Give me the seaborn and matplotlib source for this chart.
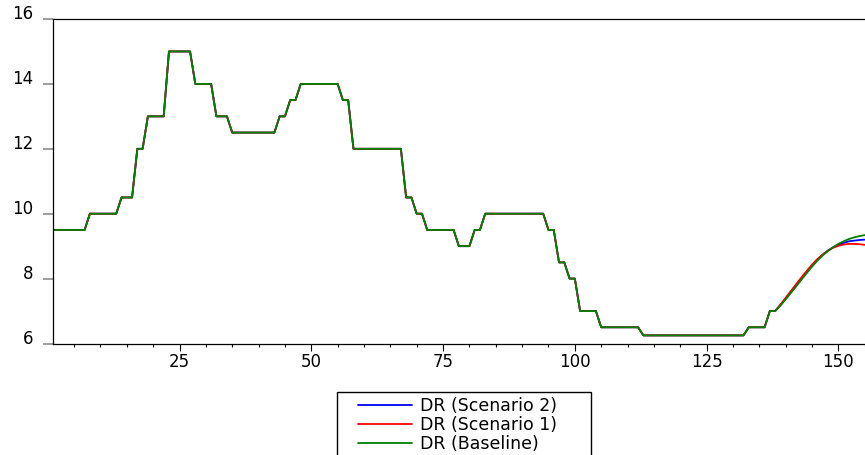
import matplotlib
matplotlib.use("Agg")
import matplotlib.pyplot as plt
from matplotlib.lines import Line2D
from matplotlib.patches import Rectangle
from matplotlib.ticker import MultipleLocator, NullLocator
import numpy as np
import pandas as pd
import seaborn as sns

# ---------------- data ----------------
# common history, periods 1..138
t_history = list(range(1, 139))
history = [
    9.5, 9.5, 9.5, 9.5, 9.5, 9.5, 9.5,            # 1-7
    10, 10, 10, 10, 10, 10,                       # 8-13
    10.5, 10.5, 10.5,                             # 14-16
    12, 12,                                       # 17-18
    13, 13, 13, 13,                               # 19-22
    15, 15, 15, 15, 15,                           # 23-27
    14, 14, 14, 14,                               # 28-31
    13, 13, 13,                                   # 32-34
    12.5, 12.5, 12.5, 12.5, 12.5, 12.5, 12.5, 12.5, 12.5,  # 35-43
    13, 13,                                       # 44-45
    13.5, 13.5,                                   # 46-47
    14, 14, 14, 14, 14, 14, 14, 14,               # 48-55
    13.5, 13.5,                                   # 56-57
    12, 12, 12, 12, 12, 12, 12, 12, 12, 12,       # 58-67
    10.5, 10.5,                                   # 68-69
    10, 10,                                       # 70-71
    9.5, 9.5, 9.5, 9.5, 9.5, 9.5,                 # 72-77
    9, 9, 9,                                      # 78-80
    9.5, 9.5,                                     # 81-82
    10, 10, 10, 10, 10, 10, 10, 10, 10, 10, 10, 10,  # 83-94
    9.5, 9.5,                                     # 95-96
    8.5, 8.5,                                     # 97-98
    8, 8,                                         # 99-100
    7, 7, 7, 7,                                   # 101-104
    6.5, 6.5, 6.5, 6.5, 6.5, 6.5, 6.5, 6.5,       # 105-112
    6.25, 6.25, 6.25, 6.25, 6.25, 6.25, 6.25, 6.25, 6.25, 6.25,
    6.25, 6.25, 6.25, 6.25, 6.25, 6.25, 6.25, 6.25, 6.25, 6.25,  # 113-132
    6.5, 6.5, 6.5, 6.5,                           # 133-136
    7, 7,                                         # 137-138
]

# forecast periods 139..155
t_forecast = list(range(139, 156))
baseline_fc = [7.17, 7.36, 7.56, 7.76, 7.97, 8.17, 8.37, 8.55, 8.71,
               8.85, 8.97, 9.07, 9.15, 9.22, 9.27, 9.31, 9.34]
scenario1_fc = [7.20, 7.41, 7.62, 7.83, 8.04, 8.24, 8.43, 8.60, 8.74,
                8.86, 8.95, 9.01, 9.05, 9.07, 9.07, 9.06, 9.04]
scenario2_fc = [7.18, 7.38, 7.59, 7.80, 8.00, 8.20, 8.40, 8.58, 8.73,
                8.86, 8.96, 9.04, 9.10, 9.15, 9.17, 9.19, 9.20]

series_names = ["DR (Scenario 2)", "DR (Scenario 1)", "DR (Baseline)"]
series_colors = ["#0000ff", "#ff0000", "#008000"]
x_ticks = [25, 50, 75, 100, 125, 150]
y_ticks = [6, 8, 10, 12, 14, 16]

frames = []
for name, fc in zip(series_names, [scenario2_fc, scenario1_fc, baseline_fc]):
    frames.append(pd.DataFrame({"t": t_history + t_forecast,
                                "DR": history + fc,
                                "series": name}))
df = pd.concat(frames, ignore_index=True)

# ---------------- figure ----------------
sns.set_style("ticks")
plt.rcParams["font.family"] = ["DejaVu Sans"]
plt.rcParams["text.color"] = "black"
plt.rcParams["xtick.labelcolor"] = "black"
plt.rcParams["ytick.labelcolor"] = "black"
W, H = 865, 455
fig = plt.figure(figsize=(W / 100, H / 100), dpi=100)
fig.patch.set_facecolor("white")
ax = fig.add_axes([53 / W, 1 - 343.5 / H, 1 - 53 / W, (343.5 - 19) / H])

sns.lineplot(data=df, x="t", y="DR", hue="series", hue_order=series_names,
             palette=series_colors, linewidth=1.3, ax=ax, legend=False,
             estimator=None)

ax.set_xlim(1, 155.05)
ax.set_ylim(6, 16)
ax.set_xlabel("")
ax.set_ylabel("")

for side in ["left", "bottom", "top"]:
    ax.spines[side].set_visible(True)
    ax.spines[side].set_color("black")
    ax.spines[side].set_linewidth(0.9)
ax.spines["right"].set_visible(False)

ax.set_xticks(x_ticks)
ax.set_xticklabels([str(v) for v in x_ticks])
ax.xaxis.set_minor_locator(MultipleLocator(5))
ax.set_yticks(y_ticks)
ax.set_yticklabels([str(v) for v in y_ticks])
ax.yaxis.set_minor_locator(NullLocator())

ax.tick_params(axis="x", which="major", direction="out", length=5,
               width=0.8, color="black", pad=2, labelsize=12,
               labelcolor="black")
ax.tick_params(axis="x", which="minor", direction="out", length=2.5,
               width=0.8, color="black")
ax.tick_params(axis="y", which="major", direction="out", length=7.2,
               width=1.2, color="#8c8c8c", pad=7.2, labelsize=12,
               labelcolor="black")
ax.tick_params(top=False, right=False, which="both")
plt.setp(ax.get_yticklabels(), va="baseline")

# ---------------- legend ----------------
FS = 12.5
F = FS * 100 / 72.0  # font size in px
handles = [Line2D([], [], color=c, linewidth=1.3) for c in series_colors]
fig.legend(handles, series_names, loc="upper left",
           bbox_to_anchor=(349 / W, 1 - 388 / H),
           frameon=False, borderpad=0, handlelength=54 / F,
           handletextpad=8 / F, labelspacing=0.08, fontsize=FS,
           labelcolor="black")
fig.add_artist(Rectangle((337 / W, -0.2), 254 / W, (1 - 392 / H) + 0.2,
                         transform=fig.transFigure, fill=False,
                         edgecolor="black", linewidth=1.0))

fig.savefig("out.png", dpi=100)
